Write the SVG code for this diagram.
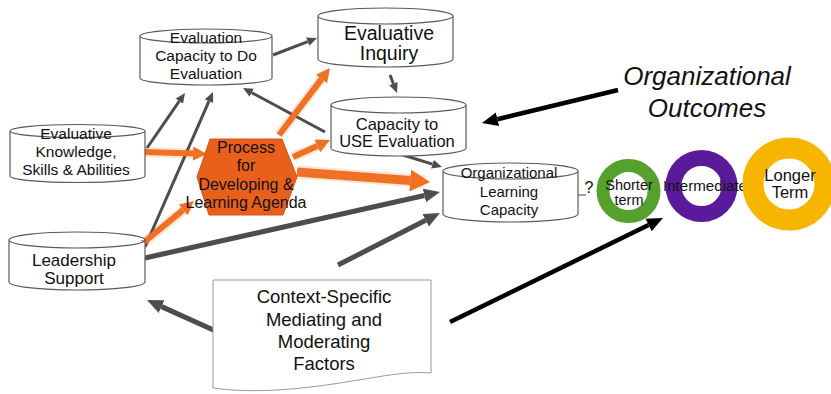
<svg xmlns="http://www.w3.org/2000/svg" width="831" height="394" viewBox="0 0 831 394">
  <style>
    .cyl { fill: #ffffff; stroke: #5a5a5a; stroke-width: 1.2; }
    .lbl { font-family: "Liberation Sans", Arial, sans-serif; fill: #111; text-anchor: middle; }
    .gs { stroke: #4d4d4d; stroke-width: 3; fill: none; marker-end: url(#ahGrayS); }
    .gl { stroke: #4d4d4d; stroke-width: 5; fill: none; marker-end: url(#ahGrayL); }
    .bk { stroke: #000; stroke-width: 4.5; fill: none; marker-end: url(#ahBlack); }
    .om { stroke: #f07024; stroke-width: 6; fill: none; marker-end: url(#ahOrangeM); }
    .ol { stroke: #f07024; stroke-width: 9; fill: none; marker-end: url(#ahOrangeL); }
    .halo { stroke: #f9b98a; fill: none; opacity: 0.35; }
  </style>
  <defs>
    <marker id="ahGrayS" viewBox="0 -5 10 10" markerWidth="10" markerHeight="10" refX="0" refY="0" markerUnits="userSpaceOnUse" orient="auto">
      <path d="M0,-4.5 L10,0 L0,4.5 z" fill="#4d4d4d"/>
    </marker>
    <marker id="ahGrayL" viewBox="0 -8 16 16" markerWidth="16" markerHeight="16" refX="0" refY="0" markerUnits="userSpaceOnUse" orient="auto">
      <path d="M0,-7 L16,0 L0,7 z" fill="#4d4d4d"/>
    </marker>
    <marker id="ahBlack" viewBox="0 -8 16 16" markerWidth="16" markerHeight="16" refX="0" refY="0" markerUnits="userSpaceOnUse" orient="auto">
      <path d="M0,-7 L16,0 L0,7 z" fill="#000"/>
    </marker>
    <marker id="ahOrangeM" viewBox="0 -7 14 14" markerWidth="14" markerHeight="14" refX="0" refY="0" markerUnits="userSpaceOnUse" orient="auto">
      <path d="M0,-7 L14,0 L0,7 z" fill="#f07024"/>
    </marker>
    <marker id="ahOrangeL" viewBox="0 -11 20 22" markerWidth="20" markerHeight="22" refX="0" refY="0" markerUnits="userSpaceOnUse" orient="auto">
      <path d="M0,-11 L20,0 L0,11 z" fill="#f07024"/>
    </marker>
  </defs>

  <rect width="831" height="394" fill="#ffffff"/>

  <!-- connectors -->
  <g id="connectors">
    <!-- soft halo under the orange flows -->
    <g class="halo">
      <line x1="145" y1="152" x2="200" y2="154" stroke-width="10"/>
      <line x1="143" y1="243" x2="190" y2="205" stroke-width="10"/>
      <line x1="279" y1="135" x2="326" y2="73" stroke-width="10"/>
      <line x1="293" y1="157" x2="325" y2="143" stroke-width="10"/>
      <line x1="297" y1="172" x2="425" y2="181.5" stroke-width="13"/>
    </g>
    <!-- gray influence arrows -->
    <line class="gs" x1="273" y1="55" x2="307.7" y2="41.6"/>
    <line class="gs" x1="390" y1="75" x2="393.4" y2="83.7"/>
    <line class="gs" x1="325" y1="132" x2="251.8" y2="92.7"/>
    <line class="gs" x1="147" y1="148" x2="179.3" y2="101.2"/>
    <line class="gs" x1="145" y1="247" x2="209" y2="101.2"/>
    <line class="gs" x1="403" y1="155" x2="432.4" y2="164.1"/>
    <line class="gl" x1="145" y1="258" x2="424.4" y2="195.5"/>
    <line class="gl" x1="338" y1="265" x2="425.7" y2="220.3"/>
    <line class="gl" x1="220" y1="333" x2="161.6" y2="306.6"/>
    <!-- black outcome arrows -->
    <line class="bk" x1="450" y1="322" x2="648.6" y2="225"/>
    <line class="bk" x1="618" y1="90" x2="497.5" y2="119.2"/>
    <!-- orange process arrows -->
    <line class="om" x1="145" y1="152" x2="193" y2="153.5"/>
    <line class="om" x1="143" y1="243" x2="183.2" y2="209.9"/>
    <line class="om" x1="279" y1="135" x2="321.5" y2="79.1"/>
    <line class="om" x1="293" y1="157" x2="317.3" y2="145.9"/>
    <line class="ol" x1="297" y1="172" x2="410.1" y2="180.5"/>
    <!-- short tick toward the outcomes -->
    <line x1="578" y1="195" x2="586" y2="195" stroke="#666" stroke-width="1.2"/>
  </g>

  <!-- Evaluation Capacity to Do Evaluation -->
  <g id="eval-capacity">
    <path class="cyl" d="M140,36 A66,7 0 0 1 272,36 A66,7 0 0 1 140,36 V78 A66,7 0 0 0 272,78 V36"/>
    <text class="lbl" x="206" y="43" font-size="15.5">Evaluation</text>
    <text class="lbl" x="206" y="61" font-size="15.5">Capacity to Do</text>
    <text class="lbl" x="206" y="79" font-size="15.5">Evaluation</text>
  </g>

  <!-- Evaluative Inquiry -->
  <g id="evaluative-inquiry">
    <path class="cyl" d="M318,16 A67.5,8 0 0 1 453,16 A67.5,8 0 0 1 318,16 V59 A67.5,8 0 0 0 453,59 V16"/>
    <text class="lbl" x="389" y="40" font-size="19.5">Evaluative</text>
    <text class="lbl" x="389" y="60" font-size="19.5">Inquiry</text>
  </g>

  <!-- Capacity to USE Evaluation -->
  <g id="capacity-use">
    <path class="cyl" d="M331,105 A67.5,8 0 0 1 466,105 A67.5,8 0 0 1 331,105 V148 A67.5,8 0 0 0 466,148 V105"/>
    <text class="lbl" x="397" y="130" font-size="16.5">Capacity to</text>
    <text class="lbl" x="397" y="147" font-size="16.5">USE Evaluation</text>
  </g>

  <!-- Evaluative Knowledge, Skills & Abilities -->
  <g id="evaluative-knowledge">
    <path class="cyl" d="M10,131 A67.5,6.5 0 0 1 145,131 A67.5,6.5 0 0 1 10,131 V176 A67.5,6.5 0 0 0 145,176 V131"/>
    <text class="lbl" x="76" y="139" font-size="15.5">Evaluative</text>
    <text class="lbl" x="76" y="157" font-size="15.5">Knowledge,</text>
    <text class="lbl" x="76" y="175" font-size="15.5">Skills &amp; Abilities</text>
  </g>

  <!-- Leadership Support -->
  <g id="leadership-support">
    <path class="cyl" d="M9,240 A68,8 0 0 1 145,240 A68,8 0 0 1 9,240 V282 A68,8 0 0 0 145,282 V240"/>
    <text class="lbl" x="74" y="266" font-size="17">Leadership</text>
    <text class="lbl" x="74" y="284" font-size="17">Support</text>
  </g>

  <!-- Organizational Learning Capacity -->
  <g id="org-learning">
    <path class="cyl" d="M443,171 A67.5,8 0 0 1 578,171 A67.5,8 0 0 1 443,171 V214 A67.5,8 0 0 0 578,214 V171"/>
    <text class="lbl" x="509" y="178" font-size="15">Organizational</text>
    <text class="lbl" x="509" y="197" font-size="15">Learning</text>
    <text class="lbl" x="509" y="215" font-size="15">Capacity</text>
  </g>

  <!-- Process for Developing & Learning Agenda -->
  <g id="process-agenda">
    <polygon points="210,139 282,139 297,177 283,215 209,215 197,177" fill="#e8601c" stroke="#d25512" stroke-width="1"/>
    <text class="lbl" x="246" y="153" font-size="16">Process</text>
    <text class="lbl" x="246" y="171" font-size="16">for</text>
    <text class="lbl" x="246" y="190" font-size="16">Developing &amp;</text>
    <text class="lbl" x="246" y="208" font-size="16">Learning Agenda</text>
  </g>

  <!-- Context-Specific Mediating and Moderating Factors -->
  <g id="context-factors">
    <path d="M213,280 H431 V373 C405,371 385,376 352,381 C305,389 255,394 213,388 Z" fill="#ffffff" stroke="#9a9a9a" stroke-width="1"/>
    <text class="lbl" x="324" y="303" font-size="18.5">Context-Specific</text>
    <text class="lbl" x="324" y="326" font-size="18.5">Mediating and</text>
    <text class="lbl" x="324" y="348" font-size="18.5">Moderating</text>
    <text class="lbl" x="324" y="370" font-size="18.5">Factors</text>
  </g>

  <!-- Organizational Outcomes heading -->
  <g id="outcomes-title">
    <text class="lbl" x="707" y="85" font-size="26" font-style="italic">Organizational</text>
    <text class="lbl" x="707" y="117" font-size="26" font-style="italic">Outcomes</text>
  </g>

  <text class="lbl" x="589" y="193" font-size="16">?</text>

  <!-- outcome rings -->
  <g id="shorter-term">
    <circle cx="628.5" cy="191" r="25.5" fill="none" stroke="#56a02c" stroke-width="13"/>
    <text class="lbl" x="629" y="190" font-size="14.5">Shorter</text>
    <text class="lbl" x="629" y="205" font-size="14.5">term</text>
  </g>
  <g id="intermediate">
    <circle cx="701.5" cy="186" r="28" fill="none" stroke="#5a1a9c" stroke-width="16"/>
    <text class="lbl" x="705" y="191" font-size="15" textLength="84" lengthAdjust="spacingAndGlyphs">Intermediate</text>
  </g>
  <g id="longer-term">
    <circle cx="789" cy="184" r="36" fill="none" stroke="#f8b500" stroke-width="21"/>
    <text class="lbl" x="790" y="181" font-size="16.5">Longer</text>
    <text class="lbl" x="790" y="198" font-size="16.5">Term</text>
  </g>
</svg>
